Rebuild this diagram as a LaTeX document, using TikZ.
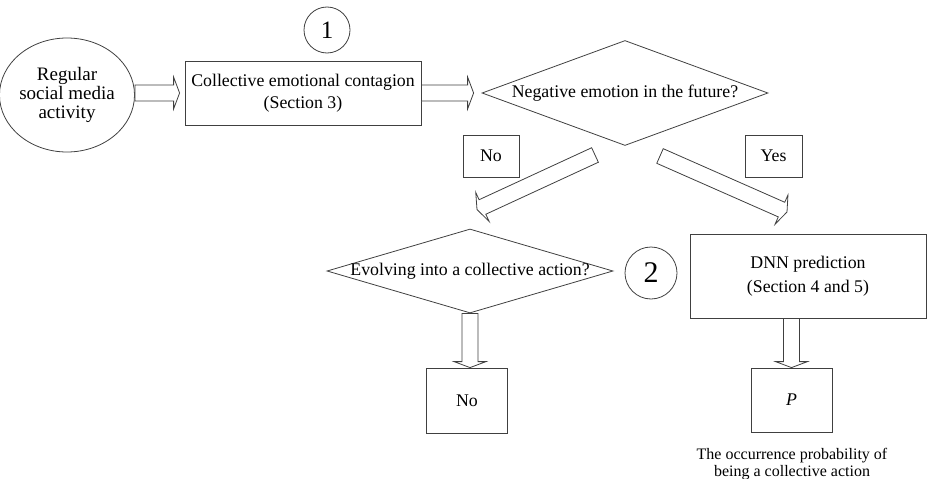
\documentclass[tikz,border=0pt]{standalone}
\usepackage{fontspec}
\setmainfont{Liberation Serif}
\usetikzlibrary{shapes.geometric,calc}

% hollow block arrow between two points
\newcommand{\fatarrow}[2]{%
  \draw[fatline] let \p1=(#1), \p2=(#2),
      \n1={atan2(\y2-\y1,\x2-\x1)},
      \n2={veclen(\x2-\x1,\y2-\y1)-6} in
    ($(\p1)+(\n1-90:8pt)$) -- ($(\p1)+(\n1:\n2)+(\n1-90:8pt)$)
    -- ($(\p1)+(\n1:\n2)+(\n1-90:16pt)$) -- (\p2)
    -- ($(\p1)+(\n1:\n2)+(\n1+90:16pt)$) -- ($(\p1)+(\n1:\n2)+(\n1+90:8pt)$)
    -- ($(\p1)+(\n1+90:8pt)$) -- cycle;}

\begin{document}
\begin{tikzpicture}[x=1pt,y=-1pt,
  txt/.style={font=\fontsize{17.8}{21.5}\selectfont, align=center},
  box/.style={draw=black!75, line width=0.8pt, rectangle, inner sep=0pt, txt},
  decide/.style={draw=black!75, line width=0.8pt, diamond, inner sep=0pt, txt},
  numcirc/.style={draw=black!75, line width=0.8pt, circle, inner sep=0pt},
  fatline/.style={draw=black!75, line width=0.8pt, fill=white, line join=miter}]

  \useasboundingbox (0,0) rectangle (929,479);

  % top row
  \node[draw=black!75, line width=0.8pt, ellipse, minimum width=122pt,
    minimum height=114pt, inner sep=0pt, txt, font=\fontsize{19}{19}\selectfont]
    (activity) at (67,95) {Regular\\social media\\activity};
  \node[box, minimum width=236pt, minimum height=64pt] (contagion) at (303,93)
    {Collective emotional contagion\\(Section 3)};
  \node[numcirc, minimum size=46pt, font=\fontsize{25}{25}\selectfont] (one) at (327,30) {1};
  \node[decide, minimum width=286pt, minimum height=105pt] (negative) at (625,93)
    {\makebox[0pt]{Negative emotion in the future?}};

  % branch labels
  \node[box, minimum width=56pt, minimum height=42pt] (nolabel) at (491,156) {No};
  \node[box, minimum width=57pt, minimum height=42pt] (yeslabel) at (773.5,156) {Yes};

  % second row
  \node[decide, minimum width=286pt, minimum height=84pt] (evolve) at (470,271)
    {\makebox[0pt]{Evolving into a collective action?}};
  \node[numcirc, minimum size=52pt, font=\fontsize{30}{30}\selectfont] (two) at (651,273) {2};
  \node[box, minimum width=236pt, minimum height=84pt, font=\fontsize{17.8}{24}\selectfont]
    (dnn) at (808,276) {DNN prediction\\(Section 4 and 5)};

  % results
  \node[box, minimum width=81pt, minimum height=65pt] (noend) at (467,400.5) {No};
  \node[box, minimum width=81pt, minimum height=64pt] (prob) at (791.5,400) {\textit{P}};
  \node[txt, font=\fontsize{16}{17}\selectfont, inner sep=0pt] (probtext) at (792,464)
    {The occurrence probability of\\being a collective action};

  \coordinate (notail) at (595,155);
  \coordinate (notip) at (477,209.5);
  \coordinate (yestail) at (660,156);
  \coordinate (yestip) at (787,212);

  \fatarrow{activity.east |- contagion.west}{$(contagion.west)+(-5,0)$}
  \fatarrow{contagion.east}{$(negative.west)+(-8,0)$}
  \fatarrow{notail}{notip}
  \fatarrow{yestail}{yestip}
  \fatarrow{evolve.south}{evolve.south |- noend.north}
  \fatarrow{prob.north |- dnn.south}{prob.north}
\end{tikzpicture}
\end{document}
